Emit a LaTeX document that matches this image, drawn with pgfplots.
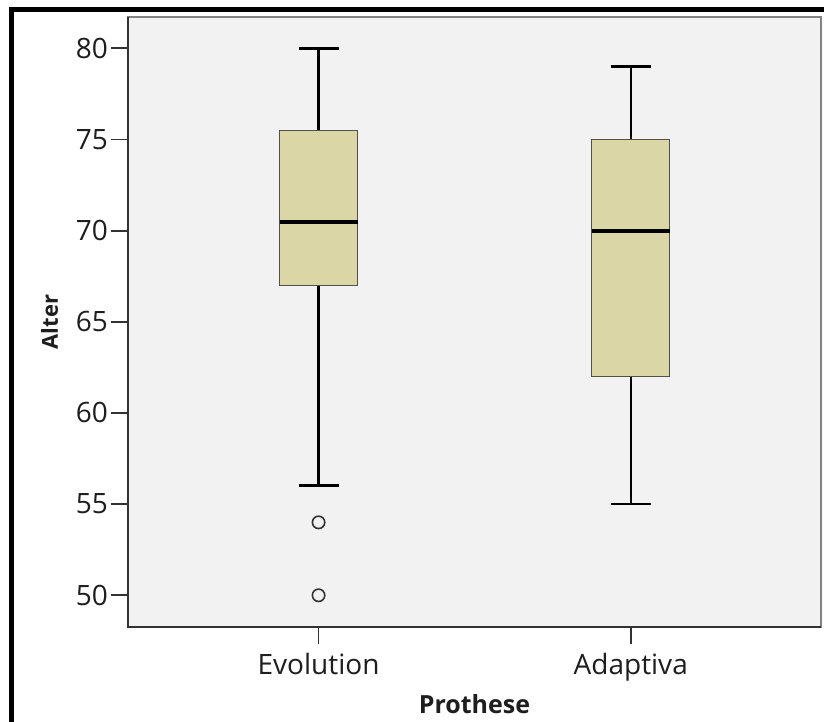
\documentclass[border=0pt]{standalone}
\usepackage{fontspec}
\setmainfont{Open Sans}
\usepackage{pgfplots}
\pgfplotsset{compat=1.18}

\definecolor{plotbg}{RGB}{242,242,242}
\definecolor{boxfill}{RGB}{219,214,166}
\definecolor{boxedge}{RGB}{80,80,75}
\definecolor{axisdark}{RGB}{50,50,50}
\definecolor{framegray}{RGB}{130,130,130}
\definecolor{txt}{RGB}{30,30,30}

\begin{document}
\begin{tikzpicture}
% overall canvas
\path[use as bounding box] (-64pt,-47.5pt) rectangle (348pt,313.5pt);
\fill[white] (-64pt,-47.5pt) rectangle (348pt,313.5pt);
% outer black frame (left and top)
\draw[line width=2.6pt, line join=miter, line cap=rect]
  (-58.3pt,-50pt) -- (-58.3pt,308.8pt) -- (350pt,308.8pt);
% plot area background
\fill[plotbg] (0pt,0pt) rectangle (346.5pt,305pt);

\begin{axis}[
  at={(0pt,0pt)}, anchor=south west,
  scale only axis,
  width=346.5pt, height=305pt,
  xmin=0.3895, xmax=2.6096,
  ymin=48.26, ymax=81.72,
  axis line style={framegray, line width=0.8pt},
  xtick={1,2},
  xticklabels={Evolution, Adaptiva},
  ytick={50,55,60,65,70,75,80},
  xtick pos=left, ytick pos=left,
  tick align=outside,
  major tick length=8.5pt,
  tick style={axisdark, line width=0.9pt},
  /pgf/number format/assume math mode=true,
  tick label style={font=\fontsize{14}{16}\selectfont, text=txt},
  xticklabel style={yshift=-1pt},
  yticklabel style={xshift=2pt},
  xlabel={\textbf{Prothese}},
  ylabel={\textbf{Alter}},
  xlabel style={font=\fontsize{12.5}{14}\selectfont, text=txt, at={(axis description cs:0.5,0)}, yshift=-30pt},
  ylabel style={font=\fontsize{11}{13}\selectfont, text=txt, yshift=2pt},
  unbounded coords=jump,
  clip=false,
]
% ---- Evolution (position 1): whiskers 56/80, quartiles 67/75.5, median 70.5
\addplot[black, line width=1.4pt] coordinates {
  (1,75.5) (1,80) (nan,nan)
  (0.936,80) (1.064,80) (nan,nan)
  (1,67) (1,56) (nan,nan)
  (0.936,56) (1.064,56)
};
\addplot[draw=boxedge, fill=boxfill, line width=0.7pt] coordinates {
  (0.875,67) (1.125,67) (1.125,75.5) (0.875,75.5)
} -- cycle;
\addplot[black, line width=2pt] coordinates {(0.875,70.5) (1.125,70.5)};
% outliers
\addplot[only marks, mark=o, mark size=3.1pt,
  mark options={draw=axisdark, fill=plotbg, line width=0.8pt}]
  coordinates {(1,54) (1,50)};

% ---- Adaptiva (position 2): whiskers 55/79, quartiles 62/75, median 70
\addplot[black, line width=1.1pt] coordinates {
  (2,75) (2,79) (nan,nan)
  (1.936,79) (2.064,79) (nan,nan)
  (2,62) (2,55) (nan,nan)
  (1.936,55) (2.064,55)
};
\addplot[draw=boxedge, fill=boxfill, line width=0.7pt] coordinates {
  (1.875,62) (2.125,62) (2.125,75) (1.875,75)
} -- cycle;
\addplot[black, line width=2pt] coordinates {(1.875,70) (2.125,70)};

% darker left and bottom axis lines
\draw[axisdark, line width=0.9pt] (rel axis cs:0,1) -- (rel axis cs:0,0) -- (rel axis cs:1,0);
\end{axis}
\end{tikzpicture}
\end{document}
